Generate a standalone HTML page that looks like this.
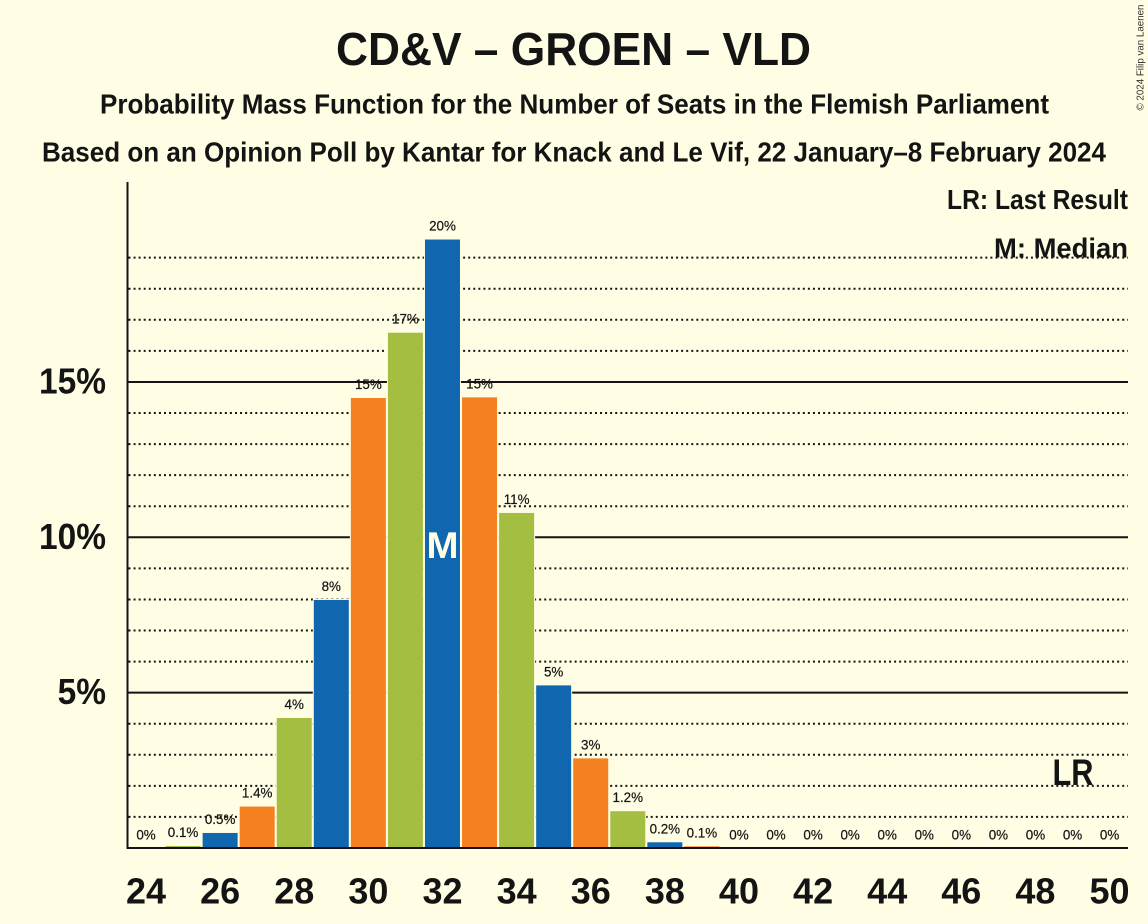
<!DOCTYPE html>
<html lang="en">
<head>
<meta charset="utf-8">
<title>CD&amp;V – GROEN – VLD</title>
<style>
html,body{margin:0;padding:0;background:#fffde4;}
svg{display:block;}
text{font-family:"Liberation Sans",sans-serif;fill:#141414;}
.head{font-weight:700;}
</style>
</head>
<body>
<svg id="chart" xmlns="http://www.w3.org/2000/svg" width="1148" height="924" viewBox="0 0 1148 924">
<rect x="0" y="0" width="1148" height="924" fill="#fffde4"/>
<text class="head" x="336" y="65" font-size="46" textLength="475" lengthAdjust="spacingAndGlyphs">CD&amp;V – GROEN – VLD</text>
<text class="head" x="100" y="113.5" font-size="28" textLength="949" lengthAdjust="spacingAndGlyphs">Probability Mass Function for the Number of Seats in the Flemish Parliament</text>
<text class="head" x="42" y="161.5" font-size="28" textLength="1064" lengthAdjust="spacingAndGlyphs">Based on an Opinion Poll by Kantar for Knack and Le Vif, 22 January–8 February 2024</text>
<text transform="translate(1143.5,110.5) rotate(-90)" font-size="10" fill="#333" textLength="106" lengthAdjust="spacingAndGlyphs" style="fill:#333">© 2024 Filip van Laenen</text>
<g id="grid"></g>
<g id="bars"></g>
<g id="axes"></g>
<g id="bar-labels"></g>
<g id="x-ticks"></g>
<g id="y-ticks"></g>
<g id="annotations"></g>
<text class="head" x="947" y="209" font-size="28" textLength="181" lengthAdjust="spacingAndGlyphs">LR: Last Result</text>
<text class="head" x="994" y="257.5" font-size="28" textLength="134" lengthAdjust="spacingAndGlyphs">M: Median</text>
</svg>
<script>
const seats = [24,25,26,27,28,29,30,31,32,33,34,35,36,37,38,39,40,41,42,43,44,45,46,47,48,49,50];
const seatProbabilities = [0,0.08,0.5,1.35,4.2,8.0,14.5,16.6,19.6,14.52,10.8,5.25,2.9,1.2,0.2,0.07,0,0,0,0,0,0,0,0,0,0,0];
const valueLabels = ["0%","0.1%","0.5%","1.4%","4%","8%","15%","17%","20%","15%","11%","5%","3%","1.2%","0.2%","0.1%","0%","0%","0%","0%","0%","0%","0%","0%","0%","0%","0%"];
const xTickSeats = [24,26,28,30,32,34,36,38,40,42,44,46,48,50];
const yTickValues = [5,10,15];
const gridValues = [1,2,3,4,5,6,7,8,9,10,11,12,13,14,15,16,17,18,19];
const medianSeat = 32;
const lastResultSeat = 49;

const SVG_NS = "http://www.w3.org/2000/svg";
const BACKGROUND = "#fffde4";
const INK = "#141414";
const PARTY_COLOURS = ["#f48020", "#a3be40", "#1067af"];
const PLOT_LEFT = 127.5;
const PLOT_RIGHT = 1128;
const PLOT_TOP = 182;
const BASELINE = 848;

function xScale(seat) { return 146 + (seat - 24) * 37.06; }
function yScale(value) { return BASELINE - value * 31.07; }

function make(tag, attrs, parent, content) {
  const el = document.createElementNS(SVG_NS, tag);
  for (const key in attrs) el.setAttribute(key, attrs[key]);
  if (content !== undefined) el.textContent = content;
  parent.appendChild(el);
  return el;
}

const gridGroup = document.getElementById("grid");
gridValues.forEach(function (v) {
  const y = yScale(v);
  if (yTickValues.includes(v)) {
    const major = make("line", {x1: PLOT_LEFT, x2: PLOT_RIGHT, y1: y, y2: y, stroke: INK, "stroke-width": 2}, gridGroup);
    
    
  } else {
    const minor = make("line", {x1: PLOT_LEFT + 1, x2: PLOT_RIGHT, y1: y, y2: y, stroke: INK, "stroke-width": 2, "stroke-dasharray": "2 3.07"}, gridGroup);
    
    
  }
});

const barGroup = document.getElementById("bars");
seats.forEach(function (seat, i) {
  const top = yScale(seatProbabilities[i]);
  const bar = make("rect", {
    x: xScale(seat) - 18,
    y: top,
    width: 36,
    height: BASELINE - top,
    fill: PARTY_COLOURS[seat % 3],
    stroke: BACKGROUND,
    "stroke-width": 1
  }, barGroup);
  
  
});

const axisGroup = document.getElementById("axes");
const yAxisLine = make("line", {x1: PLOT_LEFT, x2: PLOT_LEFT, y1: PLOT_TOP, y2: BASELINE + 1, stroke: INK, "stroke-width": 2}, axisGroup);


const xAxisLine = make("line", {x1: PLOT_LEFT - 1, x2: PLOT_RIGHT, y1: BASELINE, y2: BASELINE, stroke: INK, "stroke-width": 2}, axisGroup);



const labelGroup = document.getElementById("bar-labels");
seats.forEach(function (seat, i) {
  const label = make("text", {
    x: xScale(seat),
    y: yScale(seatProbabilities[i]) - 8.5,
    "font-size": 13.4,
    "text-anchor": "middle",
    stroke: INK,
    "stroke-width": 0.2
  }, labelGroup, valueLabels[i]);
  
  
});

const xTickGroup = document.getElementById("x-ticks");
xTickSeats.forEach(function (seat) {
  const tick = make("text", {
    x: xScale(seat),
    y: 903.5,
    "font-size": 36,
    "font-weight": 700,
    "text-anchor": "middle"
  }, xTickGroup, String(seat));
  
  
});

const yTickGroup = document.getElementById("y-ticks");
yTickValues.forEach(function (v) {
  const tick = make("text", {
    x: 106,
    y: yScale(v) + 11.5,
    "font-size": 36,
    "font-weight": 700,
    "text-anchor": "end",
    transform: "translate(" + (106 * 0.07) + ",0) scale(0.93,1)"
  }, yTickGroup, v + "%");
  
  
});

const annotationGroup = document.getElementById("annotations");
const medianMark = make("text", {
  x: xScale(medianSeat) - 16,
  y: 558,
  "font-size": 37,
  "font-weight": 700,
  textLength: 32,
  lengthAdjust: "spacingAndGlyphs",
  style: "fill:#fffde4"
}, annotationGroup, "M");


const lastResultMark = make("text", {
  x: xScale(lastResultSeat) - 20,
  y: 785,
  "font-size": 37,
  "font-weight": 700,
  textLength: 41,
  lengthAdjust: "spacingAndGlyphs"
}, annotationGroup, "LR");


</script>
</body>
</html>
